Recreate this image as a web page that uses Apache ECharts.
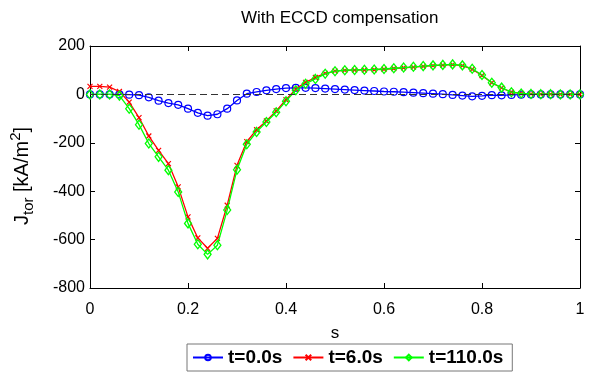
<!DOCTYPE html>
<html>
<head>
<meta charset="utf-8">
<script src="https://cdn.jsdelivr.net/npm/echarts@6/dist/echarts.min.js"></script>
<style>html,body{margin:0;padding:0;background:#fff}#c{width:589px;height:385px}</style>
</head>
<body>
<div id="c"></div>
<script>
const sValues = [0,0.02,0.04,0.06,0.08,0.10,0.12,0.14,0.16,0.18,0.20,0.22,0.24,0.26,0.28,0.30,0.32,0.34,0.36,0.38,0.40,0.42,0.44,0.46,0.48,0.50,0.52,0.54,0.56,0.58,0.60,0.62,0.64,0.66,0.68,0.70,0.72,0.74,0.76,0.78,0.80,0.82,0.84,0.86,0.88,0.90,0.92,0.94,0.96,0.98,1.0];
const jt0 = [0,0,0,0,-1,-3,-12,-26,-36,-43,-59,-76,-88,-82,-59,-25,3,10,17,22,26,27,27,26,24,22,20,18,16,14,12,11,9,7,5,3,1,-2,-5,-8,-6,-3,-4,-2,-1,0,0,0,0,0,0];
const jt6 = [33,33,30,12,-32,-96,-172,-231,-286,-382,-506,-593,-636,-595,-458,-293,-195,-146,-110,-68,-22,22,50,70,87,96,99,100,101,102,104,107,110,113,116,119,121,123,119,104,78,48,27,9,4,2,1,1,0,0,0];
const jt110 = [0,0,0,-5,-59,-125,-203,-258,-313,-403,-533,-619,-661,-623,-478,-311,-206,-155,-114,-74,-28,17,44,64,85,96,100,101,102,103,105,108,111,114,117,120,122,124,120,106,80,48,28,9,4,2,1,1,0,0,0];
const seriesNames = ['t=0.0s','t=6.0s','t=110.0s'];
const xTicks = ['0','0.2','0.4','0.6','0.8','1'];
const yTicks = [-800,-600,-400,-200,0,200];

const FONT = "'Liberation Sans', Arial, Helvetica, sans-serif";
const pairs = v => sValues.map((s,i)=>[s, v[i]]);
const chart = echarts.init(document.getElementById('c'), null, {renderer:'canvas'});
const axisCommon = {
  axisLine:{show:true,onZero:false,lineStyle:{color:'#000',width:1}},
  axisTick:{show:true,inside:true,length:5,lineStyle:{color:'#000'}},
  splitLine:{show:false}
};
chart.setOption({
  animation:false,
  backgroundColor:'#fff',
  title:{text:'With ECCD compensation',left:236,top:5,textStyle:{fontFamily:FONT,fontSize:17,fontWeight:'normal',color:'#000'}},
  grid:{left:88,right:9,top:46,bottom:97,show:false},
  legend:{
    data:seriesNames,left:187,top:344,orient:'horizontal',
    itemWidth:30,itemHeight:7,itemGap:10,padding:[4,9,4,5],
    borderColor:'#777',borderWidth:1,backgroundColor:'#fff',
    textStyle:{fontFamily:FONT,fontSize:19,fontWeight:'bold',color:'#000',padding:[0,0,0,0]}
  },
  xAxis:[
    Object.assign({type:'value',min:0,max:1,interval:0.2,position:'bottom',
      name:'s',nameLocation:'middle',nameGap:37,
      nameTextStyle:{fontFamily:FONT,fontSize:17,color:'#000'},
      axisLabel:{fontFamily:FONT,fontSize:16,color:'#000',margin:14,
        formatter:(v)=>xTicks[Math.round(v/0.2)]}},axisCommon),
    Object.assign({type:'value',min:0,max:1,interval:0.2,position:'top',axisLabel:{show:false}},axisCommon)
  ],
  yAxis:[
    Object.assign({type:'value',min:-800,max:200,interval:200,position:'left',
      name:'{m|J}{sub|tor}{m| [kA/m}{sup|2}{m|]}',nameLocation:'middle',nameGap:54,nameRotate:90,
      nameTextStyle:{fontFamily:FONT,fontSize:20,color:'#000',padding:[0,18,0,0],
        rich:{m:{fontFamily:FONT,fontSize:20,lineHeight:28,color:'#000'},
              sub:{fontFamily:FONT,fontSize:15,lineHeight:14,verticalAlign:'bottom',color:'#000'},
              sup:{fontFamily:FONT,fontSize:15,lineHeight:14,verticalAlign:'top',color:'#000'}}},
      axisLabel:{fontFamily:FONT,fontSize:16,color:'#000',margin:5,padding:[4,0,0,0],
        formatter:(v)=>String(yTicks[yTicks.indexOf(v)])}},axisCommon),
    Object.assign({type:'value',min:-800,max:200,interval:200,position:'right',axisLabel:{show:false}},axisCommon)
  ],
  series:[
    {name:seriesNames[0],type:'line',data:pairs(jt0),symbol:'circle',symbolSize:7,
     lineStyle:{color:'#0000ff',width:1.3},itemStyle:{color:'rgba(255,255,255,0)',borderColor:'#0000ff',borderWidth:1.2},
     markLine:{silent:true,symbol:['none','none'],label:{show:false},
       lineStyle:{color:'#333',type:[7,4],width:1},data:[{yAxis:0}]},z:2},
    {name:seriesNames[1],type:'line',data:pairs(jt6),symbol:'path://M0,0L10,10M10,0L0,10',symbolSize:5,
     lineStyle:{color:'#ff0000',width:1.3},itemStyle:{color:'rgba(255,255,255,0)',borderColor:'#ff0000',borderWidth:1.2},z:3},
    {name:seriesNames[2],type:'line',data:pairs(jt110),symbol:'diamond',symbolSize:[7,9],
     lineStyle:{color:'#00ff00',width:1.3},itemStyle:{color:'rgba(255,255,255,0)',borderColor:'#00ff00',borderWidth:1.3},z:4}
  ]
});
</script>
</body>
</html>
